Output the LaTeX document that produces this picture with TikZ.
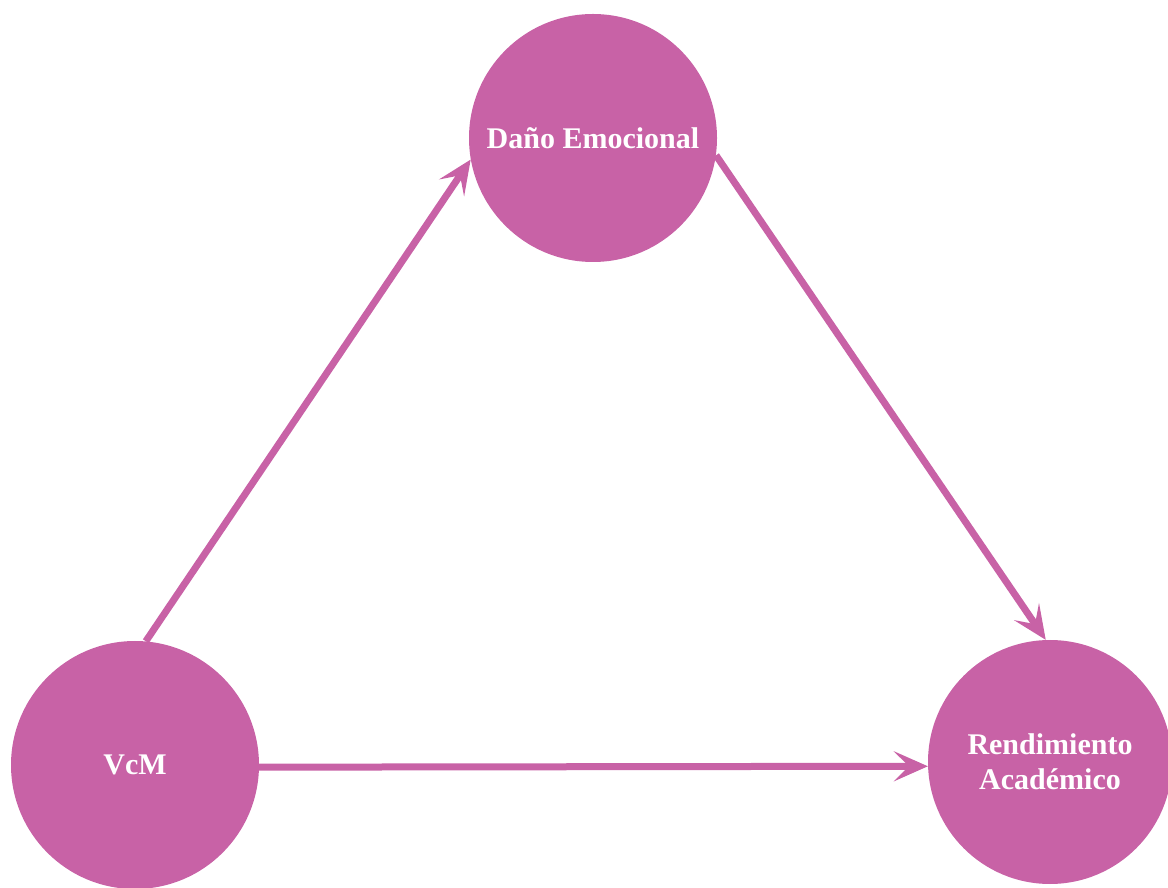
\documentclass[tikz,border=0pt]{standalone}
\usepackage{fontspec}
\setmainfont{Liberation Serif}
\usetikzlibrary{arrows.meta}
\definecolor{pinkc}{HTML}{C862A6}
\begin{document}
\begin{tikzpicture}[x=1pt,y=1pt,
  circ/.style={circle, fill=pinkc, inner sep=0pt, text=white, font=\fontsize{30}{35}\selectfont\bfseries, align=center},
  conn/.style={draw=pinkc, line width=7pt, -{Stealth[length=34pt,width=30pt,inset=15pt]}}]
\useasboundingbox (0,0) rectangle (1168,887);
\node[circ, minimum size=248pt] (dano) at (593,749) {Daño Emocional};
\node[circ, minimum size=248pt] (vcm) at (135,122) {VcM};
\node[circ, minimum size=244pt] (rend) at (1050,125) {Rendimiento\\Académico};
\draw[conn] (vcm.85) -- (dano.190);
\draw[conn] (dano.352) -- (rend.92);
\draw[conn] (vcm.359) -- (rend.182);
\end{tikzpicture}
\end{document}
